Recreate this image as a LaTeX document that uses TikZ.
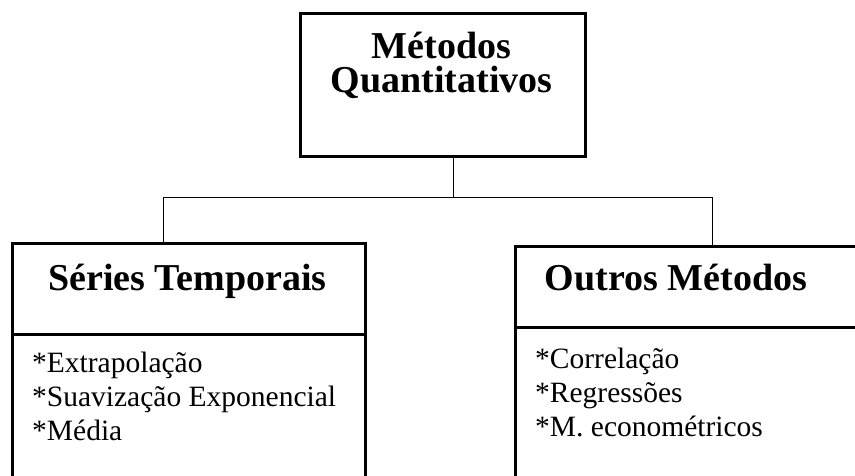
\documentclass[tikz,border=0pt]{standalone}
\usepackage{fontspec}
\setmainfont{Liberation Serif}
\usetikzlibrary{positioning}

\begin{document}
\begin{tikzpicture}[x=1pt, y=-1pt]
% estilos dos elementos
\tikzset{
  caixa/.style={rectangle, draw, line width=2.6pt, anchor=north west, inner sep=0pt},
  titulo/.style={font=\fontsize{38}{34}\selectfont\bfseries, align=center, anchor=base, inner sep=0pt},
  itens/.style={font=\fontsize{29.5}{34}\selectfont, align=left, anchor=base west, inner sep=0pt},
  ligacao/.style={draw, line width=1pt}
}
\useasboundingbox (0,0) rectangle (855,475);
\clip (0,0) rectangle (855,475);

% caixa principal
\node [caixa, minimum width=285pt, minimum height=143pt] (quant) at (299,12) {};
\node [titulo] (quantTxt) at (441.5,92) {Métodos\\Quantitativos};

% caixas dos ramos
\node [caixa, minimum width=353pt, minimum height=91pt] (seriesTopo) at (11,242) {};
\node [caixa, minimum width=353pt, minimum height=200pt] (seriesCorpo) at (11,333) {};
\node [caixa, minimum width=400pt, minimum height=81pt] (outrosTopo) at (514,245) {};
\node [caixa, minimum width=400pt, minimum height=200pt] (outrosCorpo) at (514,326) {};

% textos (base = ultima linha)
\node [titulo] (seriesTxt) at (187.5,290) {Séries Temporais};
\node [titulo] (outrosTxt) at (676,290) {Outros Métodos};
\node [itens] (seriesItens) at (32,440) {*Extrapolação\\*Suavização Exponencial\\*Média};
\node [itens] (outrosItens) at (535,436) {*Correlação\\*Regressões\\*M. econométricos};

% ligações
\coordinate (meio) at (453,197);
\coordinate (esq) at (163,197);
\coordinate (dir) at (712,197);
\draw [ligacao] (quant.south -| meio) -- (meio);
\draw [ligacao] (esq) -- (dir);
\draw [ligacao] (esq) -- (esq |- seriesTopo.north);
\draw [ligacao] (dir) -- (dir |- outrosTopo.north);
\end{tikzpicture}
\end{document}
